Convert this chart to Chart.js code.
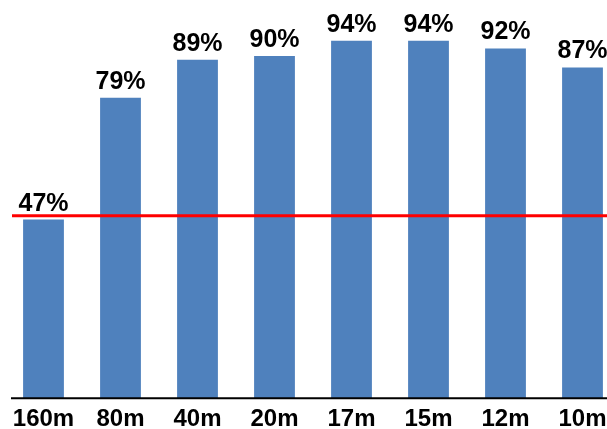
<!DOCTYPE html>
<html>
<head>
<meta charset="utf-8">
<script src="https://cdn.jsdelivr.net/npm/chart.js@4"></script>
<style>
  html, body { margin: 0; padding: 0; overflow: hidden; background: #fff; }
  #wrap { width: 622px; height: 441px; position: relative; }
</style>
</head>
<body>
<div id="wrap"><canvas id="bars"></canvas></div>
<script>
const categories = ['160m', '80m', '40m', '20m', '17m', '15m', '12m', '10m'];
const percentValues = [47, 79, 89, 90, 94, 94, 92, 87];
const thresholdValue = 48;

// draws the % labels over the bars, the red threshold line and the base axis
const overlay = {
  id: 'overlay',
  afterDatasetsDraw(chart) {
    const ctx = chart.ctx;
    const y = chart.scales.y;
    const meta = chart.getDatasetMeta(0);

    ctx.save();
    ctx.fillStyle = '#000';
    ctx.font = 'bold 25px "Liberation Sans", Arial, sans-serif';
    ctx.textAlign = 'center';
    ctx.textBaseline = 'alphabetic';
    meta.data.forEach((bar, i) => {
      ctx.fillText(percentValues[i] + '%', bar.x, bar.y - 9);
    });

    // base axis line
    const y0 = y.getPixelForValue(0);
    ctx.strokeStyle = '#000';
    ctx.lineWidth = 2;
    ctx.beginPath();
    ctx.moveTo(11, y0);
    ctx.lineTo(chart.width, y0);
    ctx.stroke();

    // threshold line
    const yt = y.getPixelForValue(thresholdValue);
    ctx.strokeStyle = '#ff0000';
    ctx.lineWidth = 3;
    ctx.beginPath();
    ctx.moveTo(12, yt);
    ctx.lineTo(chart.width, yt);
    ctx.stroke();
    ctx.restore();
  }
};

new Chart(document.getElementById('bars'), {
  type: 'bar',
  data: {
    labels: categories,
    datasets: [{
      data: percentValues,
      backgroundColor: '#4F81BD',
      borderWidth: 0,
      barPercentage: 0.53,
      categoryPercentage: 1
    }]
  },
  options: {
    responsive: true,
    maintainAspectRatio: false,
    animation: false,
    layout: { padding: { left: 5, right: 1, top: 18, bottom: 0 } },
    plugins: { legend: { display: false }, tooltip: { enabled: false } },
    scales: {
      x: {
        grid: { display: false, drawTicks: false },
        border: { display: false },
        ticks: {
          color: '#000',
          padding: 7,
          maxRotation: 0,
          autoSkip: false,
          font: { family: '"Liberation Sans", Arial, sans-serif', size: 24, weight: 'bold' }
        }
      },
      y: {
        display: false,
        min: 0,
        max: 100
      }
    }
  },
  plugins: [overlay]
});
</script>
</body>
</html>
